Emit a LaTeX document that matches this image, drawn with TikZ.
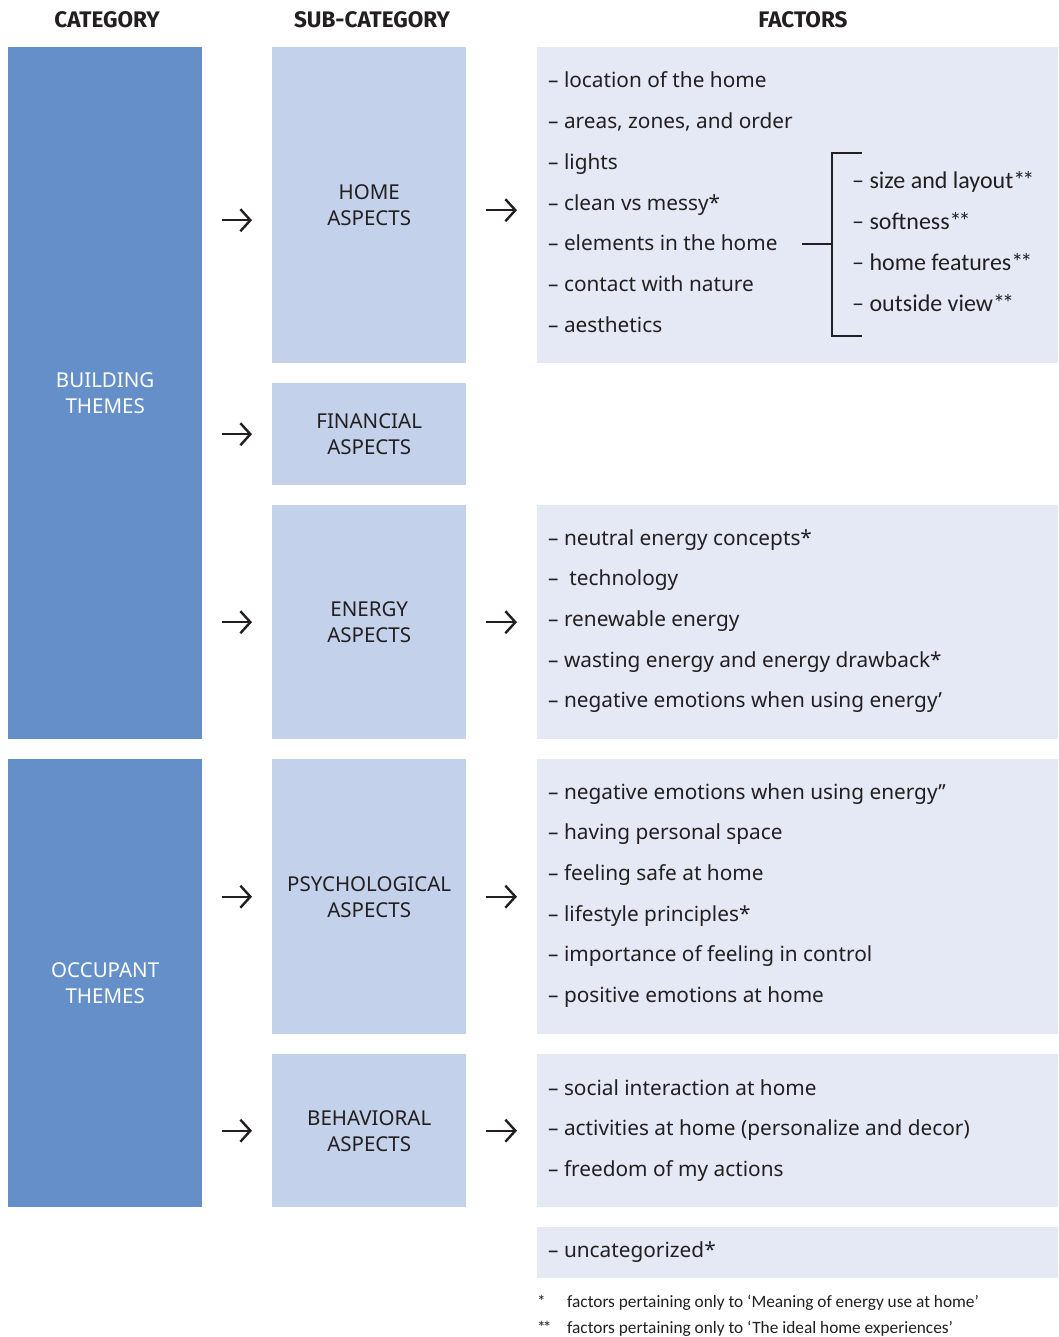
\documentclass[tikz,border=0pt]{standalone}
\usepackage{fontspec}
\setmainfont{Noto Sans}
\newfontfamily\notefont{Carlito}
\newfontfamily\headfont{Fira Sans}
\usetikzlibrary{calc,arrows.meta}
\definecolor{catblue}{RGB}{100,143,201}
\definecolor{subblue}{RGB}{195,209,234}
\definecolor{factblue}{RGB}{229,233,245}
\definecolor{ink}{RGB}{35,31,32}
\newcommand{\factorlist}[3]{%
  \foreach \txt [count=\i] in {#3}
    \node[factor] (#1\i) at (548, {#2+(\i-1)*40.67}) {\txt};}
\newcommand{\connectbox}[3][0]{%
  \draw[arr] ($(#2.east |- #3.west)+(0,#1)$) -- ($(#3.west)+(0,#1)$)}
\newcommand{\dstar}{*\kern-3pt*}

\begin{document}
\begin{tikzpicture}[x=1pt, y=-1pt,
    catbox/.style={fill=catblue, text=white, anchor=north west, minimum width=194pt,
      align=center, inner sep=0pt, font=\fontsize{20.5}{26}\selectfont},
    subbox/.style={fill=subblue, text=ink, anchor=north west, minimum width=194pt,
      align=center, inner sep=0pt, font=\fontsize{20.5}{26}\selectfont},
    factbox/.style={fill=factblue, anchor=north west, minimum width=521pt, inner sep=0pt},
    factor/.style={anchor=base west, inner sep=0pt, text=ink, font=\fontsize{20.8}{24}\selectfont},
    bracketitem/.style={anchor=base west, inner sep=0pt, text=ink, font=\notefont\fontsize{24}{28}\selectfont},
    head/.style={text=ink, font=\headfont\bfseries\fontsize{22.5}{26}\selectfont},
    note/.style={anchor=base west, inner sep=0pt, text=ink, font=\notefont\fontsize{17.3}{20}\selectfont},
    arr/.style={-{Straight Barb[length=10pt,width=22pt]}, line width=2.4pt, draw=ink,
      shorten <=20pt, shorten >=20pt},
    brk/.style={draw=ink, line width=1.4pt}]
  \useasboundingbox[fill=white] (0,0) rectangle (1058,1337);

  % headers
  \node[head] (hcat) at (107,20) {CATEGORY};
  \node[head] (hsub) at (372,20) {SUB-CATEGORY};
  \node[head] (hfac) at (803,20) {FACTORS};

  % categories
  \node[catbox, minimum height=692pt] (bt) at (8,47) {BUILDING\\THEMES};
  \node[catbox, minimum height=448pt] (ot) at (8,759) {OCCUPANT\\THEMES};

  % sub-categories
  \node[subbox, minimum height=316pt] (home) at (272,47) {HOME\\ASPECTS};
  \node[subbox, minimum height=102pt] (fin) at (272,383) {FINANCIAL\\ASPECTS};
  \node[subbox, minimum height=234pt] (energy) at (272,505) {ENERGY\\ASPECTS};
  \node[subbox, minimum height=275pt] (psych) at (272,759) {PSYCHOLOGICAL\\ASPECTS};
  \node[subbox, minimum height=153pt] (behav) at (272,1054) {BEHAVIORAL\\ASPECTS};

  % factor boxes
  \node[factbox, minimum height=316pt] (fhome) at (537,47) {};
  \node[factbox, minimum height=234pt] (fenergy) at (537,505) {};
  \node[factbox, minimum height=275pt] (fpsych) at (537,759) {};
  \node[factbox, minimum height=153pt] (fbehav) at (537,1054) {};
  \node[factbox, minimum height=51pt] (funcat) at (537,1227) {};

  % factors
  \factorlist{hf}{88}{– location of the home, {– areas, zones, and order}, – lights,
    – clean vs messy*, – elements in the home, – contact with nature, – aesthetics}
  \factorlist{ef}{545}{– neutral energy concepts*, –\ \ technology, – renewable energy,
    – wasting energy and energy drawback*, – negative emotions when using energy’}
  \factorlist{pf}{799}{– negative emotions when using energy’’, – having personal space,
    – feeling safe at home, – lifestyle principles*, – importance of feeling in control,
    – positive emotions at home}
  \factorlist{bf}{1095}{– social interaction at home,
    {– activities at home (personalize and decor)}, – freedom of my actions}
  \factorlist{uf}{1257}{– uncategorized*}

  % ideal home bracket
  \foreach \txt [count=\i] in {– size and layout\dstar, – softness\dstar,
      – home features\dstar, – outside view\dstar}
    \node[bracketitem] (bk\i) at (852, {189+(\i-1)*40.67}) {\txt};
  \coordinate (brtop) at (862,153);
  \coordinate (brmid) at (832,244);
  \coordinate (brbot) at (862,336);
  \coordinate (brstub) at (802,244);
  \draw[brk] (brtop) -| (brmid) |- (brbot);
  \draw[brk] (brstub) -- (brmid);

  % arrows
  \connectbox[15]{bt}{home};
  \connectbox{bt}{fin};
  \connectbox{bt}{energy};
  \connectbox{ot}{psych};
  \connectbox{ot}{behav};
  \connectbox[5]{home}{fhome};
  \connectbox{energy}{fenergy};
  \connectbox{psych}{fpsych};
  \connectbox{behav}{fbehav};

  % footnotes
  \node[note] (n1) at (537,1307) {*};
  \node[note] (t1) at (567,1307) {factors pertaining only to ‘Meaning of energy use at home’};
  \node[note] (n2) at (537,1333) {\dstar};
  \node[note] (t2) at (567,1333) {factors pertaining only to ‘The ideal home experiences’};
\end{tikzpicture}
\end{document}
